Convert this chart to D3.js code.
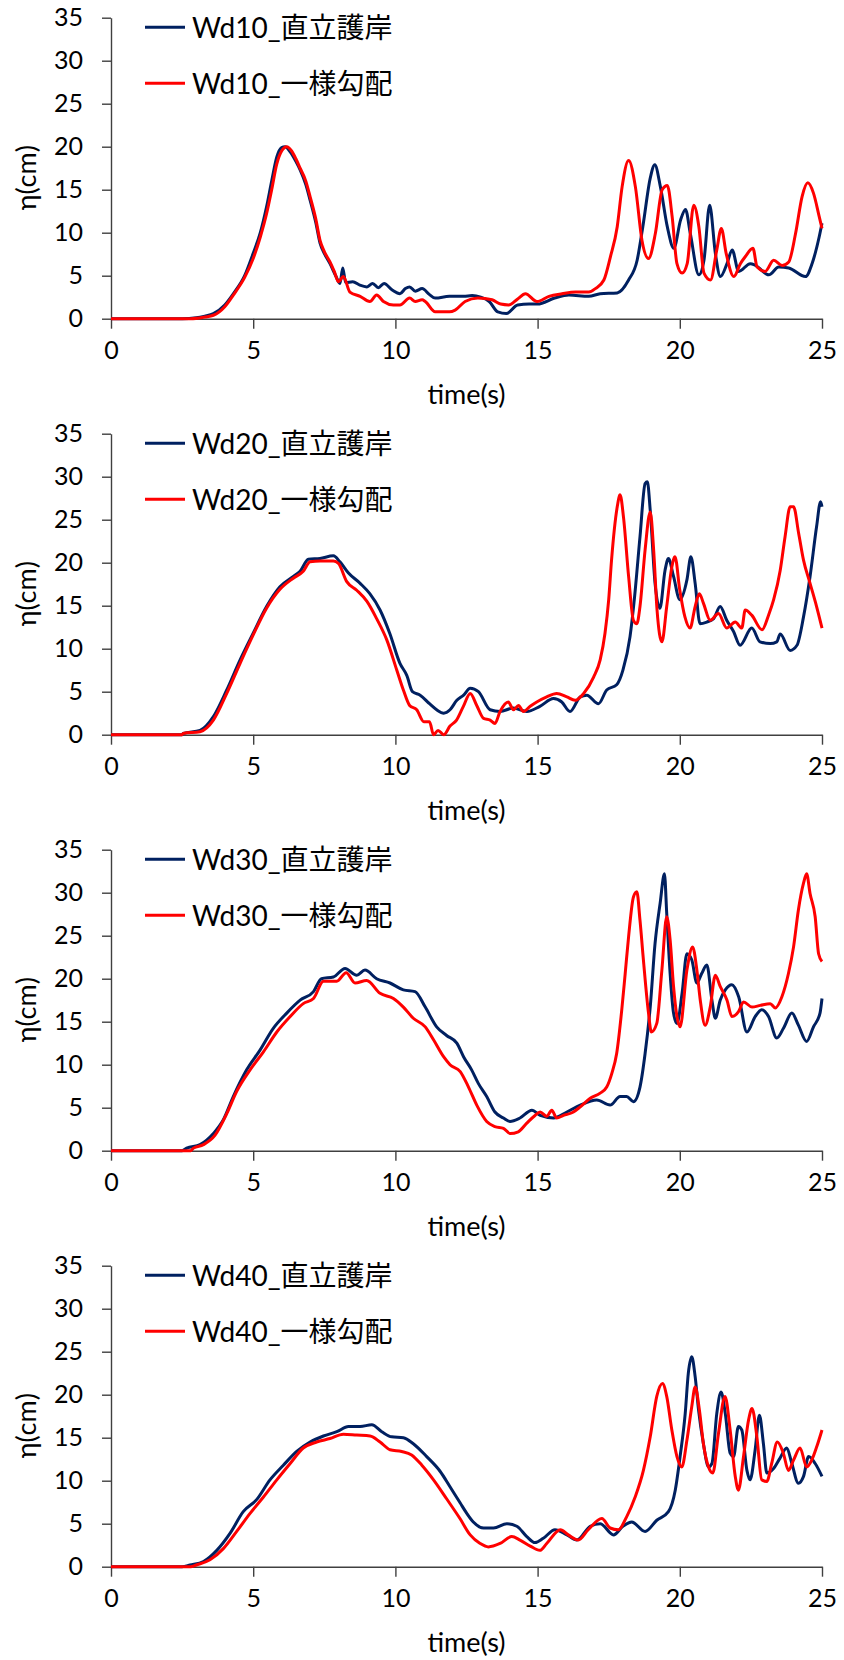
<!DOCTYPE html>
<html><head><meta charset="utf-8">
<script src="https://cdn.jsdelivr.net/npm/d3@7"></script>
<style>body{margin:0;background:#fff}svg{display:block}</style>
</head><body>
<svg id="c" width="844" height="1660"></svg>
<script>
const xTicks = [0, 5, 10, 15, 20, 25];
const yTicks = [0, 5, 10, 15, 20, 25, 30, 35];
const xTitle = "time(s)";
const yTitle = "η(cm)";
const panelNames = ["Wd10", "Wd20", "Wd30", "Wd40"];
const seriesSuffix = ["_直立護岸", "_一様勾配"];

const wd10Wall = [[0,0],[2.5,0],[3.0,0.1],[3.3,0.3],[3.6,0.6],[4.0,1.6],[4.3,2.9],[4.7,5.0],[5.0,7.6],[5.25,10],[5.47,13],[5.65,16],[5.83,18.8],[6.0,19.9],[6.12,20],[6.3,19.4],[6.5,18.3],[6.65,17.3],[6.85,15.6],[7.0,13.8],[7.2,11.2],[7.35,8.8],[7.5,7.6],[7.7,6.4],[7.9,5.0],[8.05,4.1],[8.15,5.9],[8.25,4.2],[8.5,4.3],[8.75,3.9],[9.0,3.7],[9.2,4.1],[9.4,3.6],[9.6,4.1],[9.9,3.3],[10.16,2.9],[10.35,3.5],[10.5,3.7],[10.7,3.2],[10.94,3.5],[11.2,2.8],[11.4,2.4],[11.9,2.6],[12.4,2.6],[12.7,2.7],[13.0,2.5],[13.3,2.0],[13.6,0.8],[13.9,0.6],[14.3,1.6],[14.7,1.7],[15.0,1.7],[15.6,2.4],[16.1,2.75],[16.8,2.6],[17.2,2.9],[17.8,3.0],[18.2,4.5],[18.5,6.8],[18.7,10.7],[18.97,16.5],[19.12,17.9],[19.32,15.3],[19.56,10.7],[19.79,8.2],[20.03,11.5],[20.2,12.7],[20.37,9.9],[20.67,5.1],[20.85,6.8],[21.05,13.2],[21.25,7.6],[21.43,4.9],[21.66,6.4],[21.84,8.0],[22.07,5.5],[22.48,6.4],[22.66,6.2],[23.13,5.1],[23.48,6.0],[23.83,5.9],[24.42,4.9],[24.65,6.4],[24.9,9.5],[25.0,11.1]];
const wd10Slope = [[0,0],[2.8,0],[3.3,0.2],[3.6,0.4],[4.0,1.4],[4.3,2.75],[4.7,4.8],[5.0,7.0],[5.25,9.5],[5.47,12.2],[5.65,15],[5.83,18],[6.0,19.5],[6.18,20],[6.35,19.5],[6.5,18.6],[6.65,17.5],[6.85,16],[7.0,14.2],[7.2,11.6],[7.35,9.1],[7.5,7.8],[7.7,6.6],[7.85,5.5],[8.0,4.3],[8.17,4.9],[8.4,3.1],[8.76,2.6],[9.1,2.0],[9.34,2.75],[9.58,2.0],[9.93,1.6],[10.16,1.6],[10.5,2.4],[10.7,2.0],[10.94,2.2],[11.05,2.0],[11.4,0.8],[11.9,0.8],[12.1,1.0],[12.45,2.0],[12.9,2.4],[13.4,2.2],[13.7,1.7],[13.98,1.6],[14.3,2.3],[14.57,2.9],[14.98,2.0],[15.4,2.6],[15.86,2.9],[16.33,3.1],[16.8,3.1],[17.03,3.5],[17.33,4.5],[17.56,7.2],[17.8,10.7],[17.97,15.3],[18.2,18.4],[18.44,15.3],[18.67,9.1],[18.9,7.0],[19.14,9.9],[19.38,15.0],[19.56,15.5],[19.73,11.9],[19.9,6.4],[20.08,5.3],[20.26,6.4],[20.49,13.2],[20.67,10.7],[20.85,5.3],[21.08,4.5],[21.3,8.0],[21.46,10.5],[21.63,7.6],[21.9,4.9],[22.13,6.4],[22.3,7.2],[22.57,8.2],[22.72,6.0],[23.0,5.5],[23.3,6.8],[23.6,6.2],[23.83,6.6],[24.07,9.9],[24.3,14.2],[24.5,15.8],[24.7,14.6],[24.9,11.9],[25.0,10.5]];

const wd20Wall = [[0,0],[2.5,0],[2.54,0.15],[3.13,0.5],[3.6,2.1],[4.07,5.2],[4.54,8.7],[5.0,11.8],[5.47,14.9],[5.94,17.2],[6.41,18.4],[6.65,19],[6.94,20.4],[7.35,20.5],[7.82,20.8],[8.05,20.1],[8.35,18.8],[8.76,17.6],[9.1,16.4],[9.46,14.5],[9.8,11.8],[10.16,8.3],[10.4,6.9],[10.6,5.0],[10.87,4.6],[11.2,3.6],[11.45,2.9],[11.7,2.5],[11.92,2.9],[12.16,4.0],[12.4,4.6],[12.63,5.4],[12.92,5.0],[13.33,2.9],[13.68,2.7],[14.15,3.1],[14.62,2.7],[15.08,3.3],[15.56,4.2],[15.85,3.8],[16.14,2.7],[16.5,4.4],[16.73,4.6],[17.14,3.6],[17.43,5.2],[17.78,5.8],[18.0,7.5],[18.25,11.4],[18.4,15.7],[18.6,23],[18.78,29.2],[18.86,29.4],[18.96,26.1],[19.13,17.6],[19.3,14.7],[19.48,19.1],[19.6,20.5],[19.78,18.4],[20.0,15.7],[20.25,18.0],[20.39,20.7],[20.54,17.6],[20.71,12.9],[20.95,13.1],[21.19,13.5],[21.42,14.9],[21.65,13.3],[21.89,12.0],[22.12,10.4],[22.53,12.4],[22.82,10.8],[23.18,10.6],[23.41,10.8],[23.53,11.7],[23.88,9.8],[24.12,10.4],[24.35,13.7],[24.58,18.4],[24.81,24.2],[24.95,27.1],[25.0,26.5]];
const wd20Slope = [[0,0],[2.5,0],[2.54,0.15],[3.13,0.35],[3.6,1.7],[4.07,4.8],[4.54,8.3],[5.0,11.6],[5.47,14.7],[5.94,16.9],[6.41,18.2],[6.76,19.0],[7.0,20.1],[7.35,20.2],[7.82,20.2],[8.0,19.9],[8.29,17.8],[8.64,16.8],[9.0,15.5],[9.34,13.5],[9.7,11.0],[10.05,7.5],[10.28,5.2],[10.5,3.4],[10.75,2.9],[11.0,1.5],[11.2,1.5],[11.34,0],[11.5,0.5],[11.7,0],[11.92,1.0],[12.15,1.7],[12.39,3.3],[12.63,4.8],[12.86,3.4],[13.1,1.9],[13.33,1.7],[13.5,1.3],[13.68,2.7],[13.97,3.8],[14.15,2.9],[14.33,3.4],[14.5,2.7],[14.74,3.3],[14.97,3.8],[15.32,4.4],[15.67,4.8],[16.03,4.4],[16.32,4.0],[16.62,4.8],[16.97,6.7],[17.2,8.7],[17.37,11.8],[17.5,15.7],[17.6,20.3],[17.8,26.5],[17.9,27.9],[18.02,25.3],[18.2,18.4],[18.37,13.3],[18.49,12.9],[18.6,14.9],[18.78,21.5],[18.96,25.9],[19.08,21.5],[19.2,14.5],[19.37,10.8],[19.54,14.9],[19.72,19.5],[19.83,20.7],[20.0,16.8],[20.18,13.7],[20.36,12.4],[20.54,14.9],[20.69,16.4],[20.83,15.3],[21.07,13.3],[21.36,14.1],[21.65,12.4],[21.95,13.1],[22.18,12.4],[22.3,14.5],[22.53,13.9],[22.89,12.2],[23.12,13.9],[23.3,15.7],[23.53,19.1],[23.7,23.0],[23.88,26.5],[24.0,26.5],[24.18,23.4],[24.35,20.3],[24.58,17.6],[24.81,14.9],[25.0,12.4]];

const wd30Wall = [[0,0],[2.5,0],[2.66,0.3],[3.13,0.7],[3.6,2.0],[3.95,3.6],[4.3,6.3],[4.77,9.4],[5.24,11.7],[5.7,14.2],[6.18,16.0],[6.65,17.5],[7.12,18.5],[7.4,20.0],[7.82,20.2],[8.23,21.2],[8.64,20.4],[8.93,21.0],[9.34,20.0],[9.81,19.5],[10.28,18.7],[10.69,18.5],[11.05,16.7],[11.45,14.4],[11.8,13.4],[12.16,12.5],[12.4,10.9],[12.68,9.4],[12.92,7.8],[13.21,6.3],[13.5,4.5],[13.8,3.8],[14.03,3.4],[14.38,3.8],[14.8,4.7],[15.09,4.1],[15.56,3.8],[16.03,4.5],[16.5,5.3],[17.08,5.9],[17.55,5.3],[17.9,6.3],[18.13,6.3],[18.37,5.7],[18.6,7.4],[18.78,11.3],[18.96,16.7],[19.13,24.1],[19.31,28.8],[19.46,32.2],[19.54,27.6],[19.66,20.6],[19.78,16.0],[19.9,14.8],[20.08,18.3],[20.25,22.9],[20.42,22.2],[20.6,19.5],[20.77,20.6],[20.95,21.6],[21.13,17.5],[21.25,15.4],[21.42,17.5],[21.6,18.7],[21.83,19.3],[22.07,17.9],[22.36,13.8],[22.65,15.6],[22.88,16.4],[23.12,15.6],[23.41,13.1],[23.64,14.2],[23.94,16.0],[24.17,14.6],[24.46,12.7],[24.7,14.4],[24.93,16.0],[25.0,17.7]];
const wd30Slope = [[0,0],[2.8,0],[2.9,0.3],[3.25,0.7],[3.66,1.8],[4.07,4.3],[4.42,6.9],[4.89,9.4],[5.36,11.5],[5.83,13.8],[6.3,15.6],[6.76,17.1],[7.12,17.7],[7.47,19.7],[7.94,19.7],[8.27,20.7],[8.58,19.5],[8.99,19.8],[9.46,18.3],[9.93,17.7],[10.28,16.7],[10.63,15.4],[11.05,14.4],[11.34,12.9],[11.7,10.9],[11.92,10.0],[12.28,9.2],[12.57,7.4],[12.86,5.3],[13.21,3.4],[13.5,2.8],[13.8,2.6],[14.03,2.0],[14.32,2.2],[14.62,3.2],[14.91,4.1],[15.09,4.5],[15.32,4.0],[15.5,4.7],[15.67,3.8],[15.91,4.1],[16.26,4.5],[16.5,5.1],[16.85,6.1],[17.2,6.7],[17.43,7.4],[17.61,9.0],[17.78,11.3],[17.96,16.4],[18.08,20.6],[18.2,24.9],[18.37,29.5],[18.49,30.1],[18.6,26.8],[18.72,22.2],[18.9,16.0],[19.0,13.8],[19.19,14.8],[19.37,21.0],[19.54,27.2],[19.66,24.5],[19.78,19.1],[19.9,15.6],[20.01,14.4],[20.25,21.0],[20.45,23.7],[20.6,21.0],[20.72,17.5],[20.89,14.6],[21.07,16.7],[21.25,20.4],[21.42,19.1],[21.66,17.5],[21.83,15.6],[22.07,16.2],[22.24,17.3],[22.54,16.7],[22.83,16.9],[23.18,17.1],[23.36,16.6],[23.59,17.9],[23.82,20.6],[24.0,23.7],[24.17,28.0],[24.35,31.1],[24.46,32.2],[24.58,29.9],[24.76,27.2],[24.88,22.9],[25.0,22.0]];

const wd40Wall = [[0,0],[2.5,0],[2.78,0.2],[3.25,0.6],[3.72,1.9],[4.19,3.9],[4.65,6.4],[5.12,7.8],[5.59,10.1],[6.06,11.8],[6.53,13.4],[7.0,14.5],[7.47,15.2],[7.94,15.7],[8.35,16.3],[8.76,16.3],[9.17,16.5],[9.52,15.7],[9.87,15.1],[10.28,15.0],[10.63,14.3],[11.1,12.8],[11.57,11.1],[11.92,9.3],[12.28,7.4],[12.51,6.2],[12.74,5.2],[13.1,4.5],[13.45,4.5],[13.92,5.0],[14.27,4.7],[14.62,3.5],[14.91,2.8],[15.2,3.3],[15.61,4.3],[16.03,3.7],[16.38,3.1],[16.85,4.7],[17.2,5.0],[17.67,3.7],[18.0,4.7],[18.31,5.2],[18.78,4.1],[19.19,5.4],[19.6,6.4],[19.84,8.9],[20.01,12.8],[20.19,17.8],[20.3,22.5],[20.42,24.4],[20.54,22.1],[20.66,18.2],[20.83,14.3],[21.01,11.6],[21.13,12.0],[21.3,17.8],[21.45,20.3],[21.6,17.8],[21.77,13.2],[21.89,12.8],[22.06,16.3],[22.18,15.9],[22.36,11.2],[22.47,10.1],[22.65,13.6],[22.8,17.6],[22.94,14.3],[23.06,10.9],[23.29,11.4],[23.52,12.6],[23.76,13.8],[23.94,12.0],[24.17,9.7],[24.35,10.5],[24.53,12.8],[24.76,12.0],[25.0,10.5]];
const wd40Slope = [[0,0],[2.8,0],[3.0,0.2],[3.48,0.8],[3.95,2.1],[4.42,4.1],[4.89,6.2],[5.36,8.1],[5.83,10.1],[6.3,12.0],[6.76,13.8],[7.23,14.5],[7.7,14.9],[8.17,15.4],[8.64,15.3],[9.11,15.2],[9.46,14.5],[9.81,13.6],[10.22,13.4],[10.57,13.0],[10.93,11.8],[11.34,10.1],[11.8,7.9],[12.27,5.6],[12.63,3.7],[12.98,2.7],[13.27,2.3],[13.68,2.7],[14.09,3.5],[14.38,3.1],[14.74,2.4],[15.08,1.9],[15.32,2.7],[15.8,4.3],[16.08,3.7],[16.43,3.1],[16.78,4.3],[17.26,5.6],[17.55,4.5],[17.84,4.3],[18.13,5.8],[18.43,8.1],[18.72,11.2],[18.96,15.1],[19.19,19.8],[19.39,21.3],[19.54,19.8],[19.72,15.9],[19.9,12.8],[20.07,11.6],[20.25,14.7],[20.42,18.6],[20.54,20.9],[20.69,18.2],[20.83,14.3],[21.01,11.6],[21.16,10.9],[21.36,15.5],[21.59,19.8],[21.77,15.9],[21.95,10.5],[22.06,8.9],[22.24,12.8],[22.42,17.1],[22.54,18.4],[22.71,15.1],[22.88,10.1],[23.06,9.9],[23.23,12.0],[23.43,14.5],[23.64,13.2],[23.82,11.2],[24.0,12.4],[24.23,13.8],[24.46,11.6],[24.64,12.4],[24.82,14.0],[25.0,15.9]];

const panelData = [[wd10Wall, wd10Slope], [wd20Wall, wd20Slope], [wd30Wall, wd30Slope], [wd40Wall, wd40Slope]];
const colors = ["#002060", "#FF0000"];

const svg = d3.select("#c");
svg.append("rect").attr("width", 844).attr("height", 1660).attr("fill", "#fff");
const FONT = "Lato, 'Noto Sans CJK JP', sans-serif";
const left = 111, right = 822, plotH = 301, firstTop = 17.7, step = 416;
const x = d3.scaleLinear().domain([0, 25]).range([left, right]);

panelData.forEach((series, i) => {
  const top = firstTop + i * step;
  const y = d3.scaleLinear().domain([0, 35]).range([top + plotH, top]);
  const g = svg.append("g");

  const xa = g.append("g").attr("transform", `translate(0,${top + plotH})`)
    .call(d3.axisBottom(x).tickValues(xTicks).tickSize(10).tickPadding(13).tickSizeOuter(0));
  const ya = g.append("g").attr("transform", `translate(${left},0)`)
    .call(d3.axisLeft(y).tickValues(yTicks).tickSize(9).tickPadding(19).tickSizeOuter(0));
  [xa, ya].forEach(a => {
    a.select(".domain").attr("stroke", "#404040").attr("stroke-width", 1.4);
    a.selectAll(".tick line").attr("stroke", "#404040").attr("stroke-width", 1.4);
    a.selectAll(".tick text").attr("fill", "#000").style("font-family", FONT).style("font-size", "25px");
  });
  xa.selectAll(".tick text").attr("dy", "0.71em");

  const line = d3.line().x(d => x(d[0])).y(d => y(d[1])).curve(d3.curveMonotoneX);
  series.forEach((s, k) => {
    g.append("path").datum(s).attr("d", line).attr("fill", "none")
      .attr("stroke", colors[k]).attr("stroke-width", 3).attr("stroke-linejoin", "round");
  });

  g.append("text").attr("x", (left + right) / 2).attr("y", top + plotH + 85)
    .attr("text-anchor", "middle").style("font-family", FONT).style("font-size", "27px").text(xTitle);
  g.append("text").attr("transform", `translate(36,${top + 160}) rotate(-90)`)
    .attr("text-anchor", "middle").style("font-family", FONT).style("font-size", "27px").text(yTitle);

  seriesSuffix.forEach((suf, k) => {
    const ly = top + 9.6 + k * 56;
    g.append("line").attr("x1", 145).attr("x2", 185).attr("y1", ly).attr("y2", ly)
      .attr("stroke", colors[k]).attr("stroke-width", 3);
    g.append("text").attr("x", 192).attr("y", ly + 11).style("font-family", FONT)
      .style("font-size", "28px").text(panelNames[i] + suf);
  });
});
</script>
</body></html>
